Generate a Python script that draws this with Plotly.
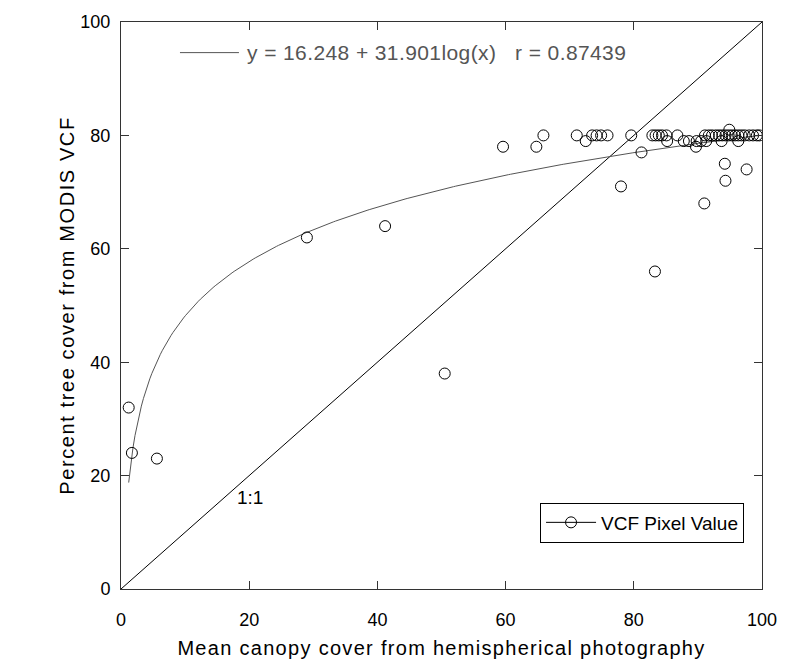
import numpy as np
import plotly.graph_objects as go

# Data
canopy_x = [1.2, 1.7, 5.6, 29.0, 41.2, 50.5, 59.6, 64.8, 65.9, 71.1, 72.5, 73.5, 74.2, 74.9, 75.9,
            78.0, 79.6, 81.2, 82.9, 83.3, 83.4, 83.9, 84.4, 85.1, 85.2, 86.8, 87.8, 88.6, 89.7, 89.8,
            90.5, 91.0, 91.1, 91.3, 91.7, 92.2, 92.8, 93.3, 93.7, 93.8, 94.2, 94.3, 94.3, 94.8, 94.9,
            95.3, 95.8, 96.3, 96.3, 96.8, 97.3, 97.6, 98.0, 98.6, 99.2, 99.6]
vcf_y = [32, 24, 23, 62, 64, 38, 78, 78, 80, 80, 79, 80, 80, 80, 80,
         71, 80, 77, 80, 56, 80, 80, 80, 80, 79, 80, 79, 79, 78, 79,
         79, 68, 80, 79, 80, 80, 80, 80, 79, 80, 75, 72, 80, 80, 81,
         80, 80, 80, 79, 80, 80, 74, 80, 80, 80, 80]

fit_a = 16.248
fit_b = 31.901
fit_r = 0.87439
one_to_one = [0, 100]

x_ticks = [0, 20, 40, 60, 80, 100]
y_ticks = [0, 20, 40, 60, 80, 100]

fit_x = np.linspace(min(canopy_x), max(canopy_x), 300)
fit_y = fit_a + fit_b * np.log10(fit_x)

FONT = "Liberation Sans, Arial, sans-serif"

def spaced(s, px):
    return f'<span style="letter-spacing:{px}px">{s}</span>'

fig = go.Figure()
fig.add_trace(go.Scatter(x=one_to_one, y=one_to_one, mode="lines",
                         line=dict(color="black", width=1), showlegend=False, hoverinfo="skip"))
fig.add_trace(go.Scatter(x=fit_x, y=fit_y, mode="lines",
                         line=dict(color="#555555", width=1), showlegend=False, hoverinfo="skip"))
fig.add_trace(go.Scatter(x=canopy_x, y=vcf_y, mode="markers",
                         marker=dict(symbol="circle-open", size=11, color="black", line=dict(width=1)),
                         showlegend=False))
# legend entry (line + open circle)
fig.add_trace(go.Scatter(x=[None], y=[None], mode="lines+markers", name="VCF Pixel Value",
                         line=dict(color="black", width=1),
                         marker=dict(symbol="circle-open", size=11, color="black", line=dict(width=1))))

# equation key line
fig.add_trace(go.Scatter(x=[9.2, 18.4], y=[94.6, 94.6], mode="lines",
                         line=dict(color="#555555", width=1), showlegend=False, hoverinfo="skip"))
fig.add_annotation(x=19.3, y=94.6, xanchor="left", yanchor="middle", showarrow=False,
                   text=spaced(f"y = {fit_a} + {fit_b}log(x)   r = {fit_r}", 0.4),
                   font=dict(size=21, color="#555555", family=FONT))
fig.add_annotation(x=20.1, y=16.1, showarrow=False, text="1:1",
                   font=dict(size=19, color="black", family=FONT))

axis_common = dict(showline=True, linecolor="#333333", linewidth=1, mirror="ticks",
                   ticks="inside", ticklen=8, tickcolor="#333333", showgrid=False, zeroline=False,
                   tickfont=dict(size=18, color="black", family=FONT))

fig.update_layout(
    width=789, height=668,
    margin=dict(l=121, r=20, t=17, b=77),
    plot_bgcolor="white", paper_bgcolor="white",
    font=dict(family=FONT, size=18, color="black"),
    xaxis=dict(range=[0, 100], tickvals=x_ticks, ticklabelstandoff=14,
               title=dict(text=spaced("Mean canopy cover from hemispherical photography", 1.3),
                          font=dict(size=20), standoff=12), **axis_common),
    yaxis=dict(range=[0, 100], tickvals=y_ticks, ticklabelstandoff=6,
               title=dict(text=spaced("Percent tree cover from MODIS VCF", 1.6),
                          font=dict(size=20), standoff=0),
               **axis_common),
    legend=dict(x=0.972, y=0.082, xanchor="right", yanchor="bottom",
                bordercolor="black", borderwidth=1, bgcolor="white",
                font=dict(size=19, family=FONT), itemwidth=50),
)

fig.write_html("out.html")
